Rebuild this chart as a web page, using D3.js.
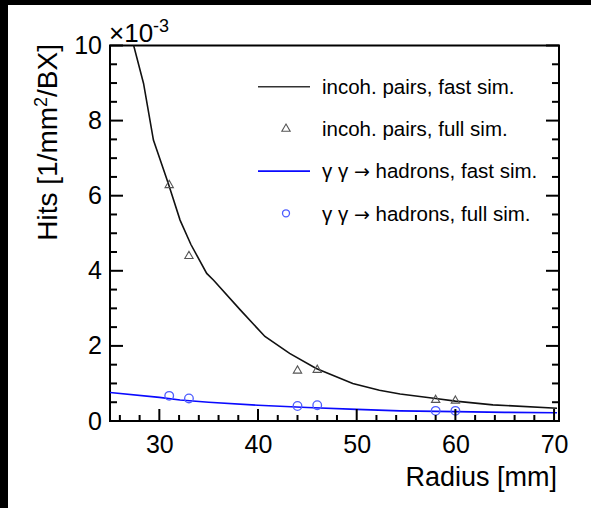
<!DOCTYPE html>
<html>
<head>
<meta charset="utf-8">
<script src="https://cdn.jsdelivr.net/npm/d3@7"></script>
<style>
  body { margin: 0; background: #fff; }
  svg { display: block; }
</style>
</head>
<body>
<svg id="chart"></svg>
<script>
// Frame and plot area, pixel layout of the page

const width = 591;
const height = 508;
const margin = { top: 45.5, left: 110, right: 32, bottom: 87 };
const font = "'Liberation Sans', Arial, Helvetica, sans-serif";

// Data (radius in mm, hits in units of 1e-3 /mm2/BX)

const pairsFastR   = [27.3, 28.4, 29.4, 30.9, 32.1, 33.2, 34.8, 35.5, 38.2, 40.7, 43.2, 45.9, 49.6, 52.3, 54.4, 58.0, 60.0, 63.8, 70.3];
const pairsFastHit = [10.1, 8.99, 7.48, 6.33, 5.35, 4.70, 3.93, 3.75, 2.96, 2.25, 1.80, 1.40, 1.00, 0.82, 0.72, 0.60, 0.53, 0.43, 0.34];

const pairsFullR   = [31, 33, 44, 46, 58, 60];
const pairsFullHit = [6.28, 4.39, 1.34, 1.36, 0.56, 0.54];

const hadFastR   = [25.0, 30.0, 32.1, 35.0, 40.0, 45.0, 50.0, 54.4, 60.0, 65.0, 70.3];
const hadFastHit = [0.76, 0.63, 0.56, 0.50, 0.42, 0.36, 0.31, 0.27, 0.25, 0.23, 0.22];

const hadFullR   = [31, 33, 44, 46, 58, 60];
const hadFullHit = [0.67, 0.60, 0.40, 0.42, 0.27, 0.27];

const xMajor = [30, 40, 50, 60, 70];
const xMinor = [26, 28, 32, 34, 36, 38, 42, 44, 46, 48, 52, 54, 56, 58, 62, 64, 66, 68];
const yMajor = [0, 2, 4, 6, 8, 10];
const yMinor = [0.5, 1, 1.5, 2.5, 3, 3.5, 4.5, 5, 5.5, 6.5, 7, 7.5, 8.5, 9, 9.5];

const legendLabels = [
  "incoh. pairs, fast sim.",
  "incoh. pairs, full sim.",
  "\u03b3 \u03b3 \u2192 hadrons, fast sim.",
  "\u03b3 \u03b3 \u2192 hadrons, full sim."
];

const blue = "#0a0aff";
const circleBlue = "#4d5cff";

// Build the svg

const svg = d3.select("#chart")
  .attr("width", width)
  .attr("height", height)
  .style("font-family", font);

// black bars along the top and left edge of the screenshot
svg.append("rect").attr("x", 0).attr("y", 0).attr("width", width).attr("height", 5).attr("fill", "#000");
svg.append("rect").attr("x", 0).attr("y", 0).attr("width", 8).attr("height", height).attr("fill", "#000");

const x = d3.scaleLinear()
  .domain([25, 70.5])
  .range([margin.left, width - margin.right]);

const y = d3.scaleLinear()
  .domain([0, 10])
  .range([height - margin.bottom, margin.top]);

const x0 = x.range()[0], x1 = x.range()[1];
const y0 = y.range()[0], y1 = y.range()[1];

svg.append("defs").append("clipPath").attr("id", "clip")
  .append("rect")
  .attr("x", x0).attr("y", y1)
  .attr("width", x1 - x0)
  .attr("height", y0 - y1);

const plot = svg.append("g");

// frame
plot.append("rect")
  .attr("x", x0).attr("y", y1)
  .attr("width", x1 - x0)
  .attr("height", y0 - y1)
  .attr("fill", "#fff")
  .attr("stroke", "#000")
  .attr("stroke-width", 2);

// Tick labels from the axes

function styleAxis(g) {
  g.select(".domain").remove();
  g.selectAll(".tick line").remove();
  g.selectAll(".tick text")
    .attr("fill", "#000")
    .attr("font-size", 25)
    .attr("font-family", font);
}

plot.append("g")
  .attr("transform", "translate(0," + y0 + ")")
  .call(d3.axisBottom(x).tickValues(xMajor).tickSize(0).tickPadding(14).tickFormat(d3.format("d")))
  .call(styleAxis);

plot.append("g")
  .attr("transform", "translate(" + x0 + ",0)")
  .call(d3.axisLeft(y).tickValues(yMajor).tickSize(0).tickPadding(8).tickFormat(d3.format("d")))
  .call(styleAxis);

// Curves

const line = d3.line()
  .x((d) => x(d[0]))
  .y((d) => y(d[1]));

const curves = plot.append("g").attr("clip-path", "url(#clip)");

curves.append("path")
  .datum(d3.zip(pairsFastR, pairsFastHit))
  .attr("d", line)
  .attr("fill", "none")
  .attr("stroke", "#111")
  .attr("stroke-width", 1.6);

curves.append("path")
  .datum(d3.zip(hadFastR, hadFastHit))
  .attr("d", line)
  .attr("fill", "none")
  .attr("stroke", blue)
  .attr("stroke-width", 1.6);

// Full sim markers

const triangle = d3.symbol().type(d3.symbolTriangle).size(30);

plot.append("g").selectAll("path")
  .data(d3.zip(pairsFullR, pairsFullHit))
  .enter()
  .append("path")
  .attr("d", triangle)
  .attr("transform", (d) => "translate(" + x(d[0]) + "," + y(d[1]) + ")")
  .attr("fill", "none")
  .attr("stroke", "#555")
  .attr("stroke-width", 1.1);

plot.append("g").selectAll("circle")
  .data(d3.zip(hadFullR, hadFullHit))
  .enter()
  .append("circle")
  .attr("cx", (d) => x(d[0]))
  .attr("cy", (d) => y(d[1]))
  .attr("r", 4.3)
  .attr("fill", "none")
  .attr("stroke", circleBlue)
  .attr("stroke-width", 1.3);

// Axis titles

svg.append("text")
  .attr("x", 557)
  .attr("y", 486)
  .attr("text-anchor", "end")
  .attr("font-size", 27)
  .text("Radius [mm]");

const yTitle = svg.append("text")
  .attr("transform", "translate(57,44) rotate(-90)")
  .attr("text-anchor", "end")
  .attr("font-size", 28);
yTitle.append("tspan").text("Hits [1/mm");
yTitle.append("tspan").attr("font-size", 18).attr("dy", -10).text("2");
yTitle.append("tspan").attr("dy", 10).text("/BX]");

const expo = svg.append("text")
  .attr("x", 109)
  .attr("y", 42)
  .attr("font-size", 26);
expo.append("tspan").text("\u00d710");
expo.append("tspan").attr("font-size", 18).attr("dy", -10).text("-3");

// Legend

const legendY = d3.scalePoint()
  .domain(d3.range(legendLabels.length))
  .range([86.7, 213.3]);

const legend = svg.append("g");

const legendText = legend.selectAll("text")
  .data(legendLabels)
  .enter()
  .append("text")
  .attr("x", 322)
  .attr("y", (d, i) => legendY(i))
  .attr("dy", "0.36em")
  .attr("font-size", 20.5);

// arrow drawn in DejaVu, where it is a wider glyph as in the original
legendText.each(function (d) {
  const t = d3.select(this);
  const parts = d.split("\u2192");
  t.append("tspan").text(parts[0]);
  if (parts.length > 1) {
    t.append("tspan").attr("font-family", "'DejaVu Sans'").attr("font-size", 19).text("\u2192");
    t.append("tspan").text(parts[1]);
  }
});

legend.append("line")
  .attr("x1", 258).attr("x2", 310)
  .attr("y1", legendY(0)).attr("y2", legendY(0))
  .attr("stroke", "#333").attr("stroke-width", 1.6);

legend.append("path")
  .attr("d", triangle)
  .attr("transform", "translate(286," + legendY(1) + ")")
  .attr("fill", "none").attr("stroke", "#555").attr("stroke-width", 1.1);

legend.append("line")
  .attr("x1", 258).attr("x2", 310)
  .attr("y1", legendY(2)).attr("y2", legendY(2))
  .attr("stroke", blue).attr("stroke-width", 1.6);

legend.append("circle")
  .attr("cx", 286).attr("cy", legendY(3)).attr("r", 3.5)
  .attr("fill", "none").attr("stroke", circleBlue).attr("stroke-width", 1.3);

// Inward tick marks, drawn last on top of everything

const yTicks = yMajor.concat(yMinor).map((v) => ({ v: v, len: yMajor.includes(v) ? 13 : 7 }));
const xTicks = xMajor.concat(xMinor).map((v) => ({ v: v, len: xMajor.includes(v) ? 12 : 6 }));

const tickLayer = svg.append("g");

tickLayer.selectAll(".tick-left")
  .data(yTicks)
  .enter()
  .append("line")
  .attr("class", "tick-left")
  .attr("x1", x0).attr("x2", (d) => x0 + d.len)
  .attr("y1", (d) => y(d.v)).attr("y2", (d) => y(d.v))
  .attr("stroke", "#000").attr("stroke-width", 2);

tickLayer.selectAll(".tick-right")
  .data(yTicks)
  .enter()
  .append("line")
  .attr("class", "tick-right")
  .attr("x1", x1).attr("x2", (d) => x1 - d.len)
  .attr("y1", (d) => y(d.v)).attr("y2", (d) => y(d.v))
  .attr("stroke", "#000").attr("stroke-width", 2);

tickLayer.selectAll(".tick-bottom")
  .data(xTicks)
  .enter()
  .append("line")
  .attr("class", "tick-bottom")
  .attr("x1", (d) => x(d.v)).attr("x2", (d) => x(d.v))
  .attr("y1", y0).attr("y2", (d) => y0 - d.len)
  .attr("stroke", "#000").attr("stroke-width", 2);
</script>
</body>
</html>
